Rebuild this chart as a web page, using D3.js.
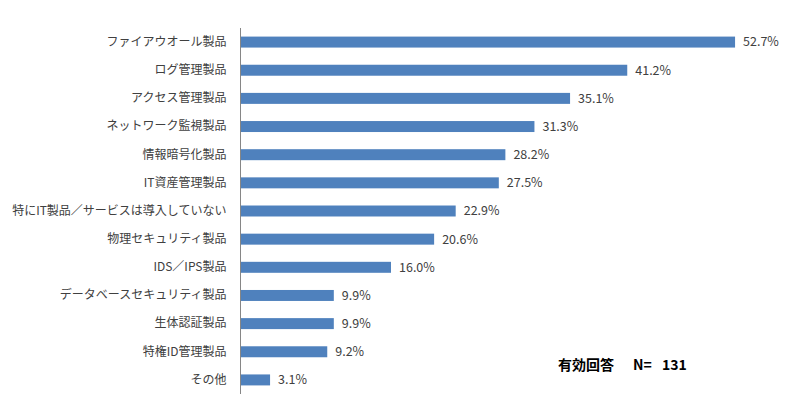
<!DOCTYPE html>
<html>
<head>
<meta charset="utf-8">
<script src="https://cdn.jsdelivr.net/npm/d3@7"></script>
<style>
  body { margin: 0; background: #fff; }
  text { font-family: "Noto Sans CJK JP", "Noto Sans", sans-serif; }
</style>
</head>
<body>
<svg id="chart" width="800" height="408"></svg>
<script>
// categories (top to bottom) and their values in %
var categories = [
  'ファイアウオール製品',
  'ログ管理製品',
  'アクセス管理製品',
  'ネットワーク監視製品',
  '情報暗号化製品',
  'IT資産管理製品',
  '特にIT製品／サービスは導入していない',
  '物理セキュリティ製品',
  'IDS／IPS製品',
  'データベースセキュリティ製品',
  '生体認証製品',
  '特権ID管理製品',
  'その他'
];
var values = [52.7, 41.2, 35.1, 31.3, 28.2, 27.5, 22.9, 20.6, 16.0, 9.9, 9.9, 9.2, 3.1];
var noteLabel = '有効回答';
var noteN = ['N=', '131'];

var data = categories.map(function(c, i) {
  return { name: c, value: values[i] };
});

var svg = d3.select('#chart');

var x = d3.scaleLinear().domain([0, 60]).range([241, 803.5]);
var y = d3.scaleBand()
  .domain(categories)
  .range([28, 394])
  .paddingInner(0.61)
  .paddingOuter(0.305);

// bars
svg.selectAll('rect.bar')
  .data(data)
  .enter().append('rect')
  .attr('class', 'bar')
  .attr('x', x(0))
  .attr('y', function(d) { return y(d.name); })
  .attr('width', function(d) { return x(d.value) - x(0); })
  .attr('height', y.bandwidth())
  .attr('fill', '#4f81bd');

// value labels
svg.selectAll('text.val')
  .data(data)
  .enter().append('text')
  .attr('class', 'val')
  .attr('x', function(d) { return x(d.value) + 8; })
  .attr('y', function(d) { return y(d.name) + y.bandwidth() / 2; })
  .attr('dy', '0.35em')
  .attr('font-size', 12.5)
  .attr('fill', '#404040')
  .text(function(d) { return d.value.toFixed(1) + '%'; });

// category axis
var yAxis = d3.axisLeft(y).tickSize(0).tickPadding(14);
var ga = svg.append('g')
  .attr('transform', 'translate(' + (x(0) - 0.5) + ',0)')
  .call(yAxis);
ga.select('.domain')
  .attr('d', 'M0,28V394')
  .attr('stroke', '#868686');
ga.selectAll('text')
  .attr('font-size', 12)
  .attr('fill', '#404040')
  .style('font-family', '"Noto Sans CJK JP", sans-serif');

// respondents note
var note = svg.append('text')
  .attr('y', 365)
  .attr('dy', '0.35em')
  .attr('font-size', 14)
  .attr('font-weight', 'bold')
  .attr('fill', '#000');
note.append('tspan').attr('x', 558).text(noteLabel);
note.append('tspan').attr('x', 633).text(noteN[0]);
note.append('tspan').attr('x', 662).text(noteN[1]);
</script>
</body>
</html>
